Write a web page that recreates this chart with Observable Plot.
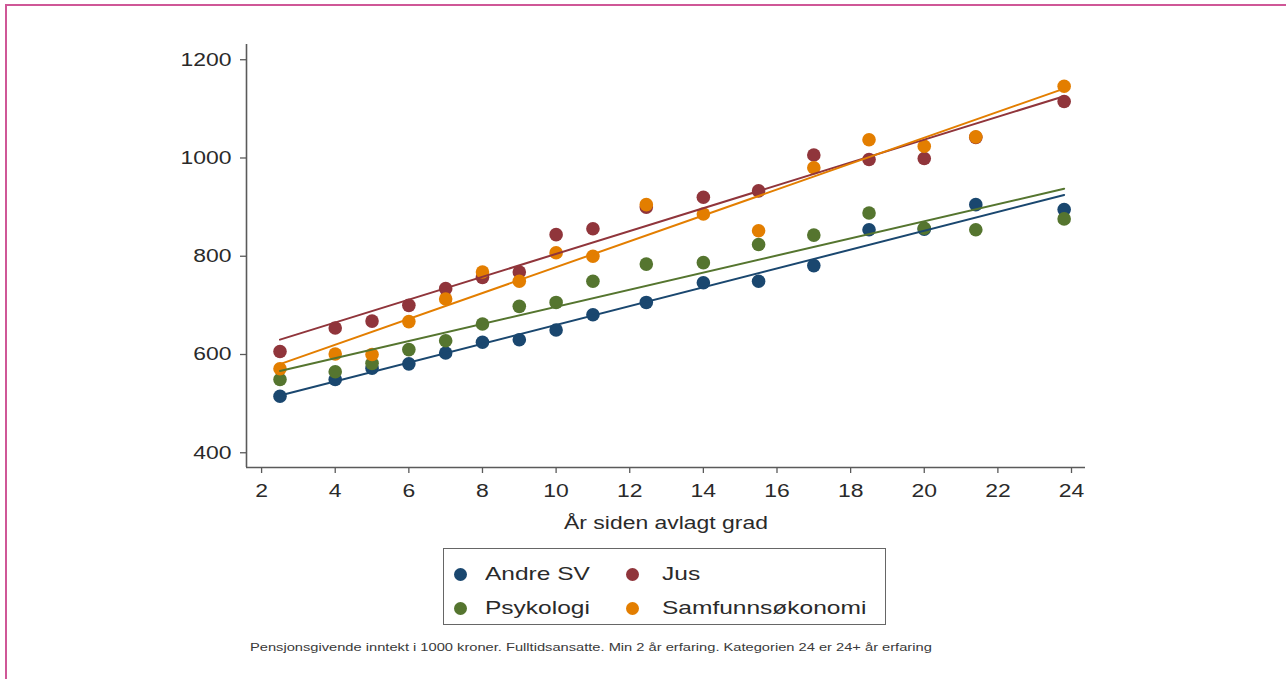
<!DOCTYPE html>
<html>
<head>
<meta charset="utf-8">
<script src="https://cdn.jsdelivr.net/npm/d3@7"></script>
<script src="https://cdn.jsdelivr.net/npm/@observablehq/plot@0.6"></script>
<style>
  html, body { margin: 0; padding: 0; background: #fff; }
  body { width: 1286px; height: 679px; position: relative; overflow: hidden;
         font-family: "Liberation Sans", Arial, sans-serif; color: #333; }
  #frame { position: absolute; left: 5px; top: 4px; right: -4px; bottom: -4px;
           border-top: 2px solid #cf5797; border-left: 2px solid #cf5797; pointer-events: none; }
  #chart { position: absolute; left: 0; top: 0; }
  #legend { position: absolute; left: 443px; top: 548px; width: 443px; height: 77px;
            border: 1px solid #666; box-sizing: border-box; background: #fff;
            display: grid; grid-template-columns: 172px 250px; grid-auto-rows: 34px;
            padding: 8px 0 0 10px; }
  .item { display: flex; align-items: center; font-size: 19px; color: #2a2a2a; }
  .sw { width: 13px; height: 13px; border-radius: 50%; margin-right: 18px; flex: none; }
  .item:nth-child(even) .sw { margin-right: 23px; }
  .lab { display: inline-block; transform: scaleX(1.29); transform-origin: left center; white-space: nowrap; }
  #caption { position: absolute; left: 250px; top: 641px; font-size: 11.5px; color: #3a3a3a;
             white-space: nowrap; transform: scaleX(1.275); transform-origin: left center; }
</style>
</head>
<body>
<div id="frame"></div>
<div id="chart"></div>
<div id="legend"></div>
<div id="caption"></div>
<script>
// ---- data ----
const years = [2.5, 4, 5, 6, 7, 8, 9, 10, 11, 12.45, 14, 15.5, 17, 18.5, 20, 21.4, 23.8];
const andreSV = [515, 549, 572, 581, 603, 625, 630, 650, 681, 706, 746, 749, 781, 854, 855, 905, 895];
const jus = [606, 654, 668, 700, 734, 757, 768, 844, 856, 900, 920, 933, 1006, 997, 999, 1042, 1115];
const psykologi = [549, 565, 582, 610, 628, 662, 698, 706, 749, 784, 787, 824, 843, 888, 857, 854, 876];
const samfunnsokonomi = [571, 601, 600, 667, 713, 768, 749, 807, 800, 905, 886, 852, 980, 1037, 1024, 1043, 1146];
const seriesNames = ["Andre SV", "Jus", "Psykologi", "Samfunnsøkonomi"];
const seriesValues = [andreSV, jus, psykologi, samfunnsokonomi];
const seriesColors = ["#1a476f", "#90353b", "#55752f", "#e37e00"];
const yTicks = [400, 600, 800, 1000, 1200];
const xTicks = [2, 4, 6, 8, 10, 12, 14, 16, 18, 20, 22, 24];
const xLabel = "År siden avlagt grad";
const captionText = "Pensjonsgivende inntekt i 1000 kroner. Fulltidsansatte. Min 2 år erfaring. Kategorien 24 er 24+ år erfaring";
const xDomain = [1.59, 24.38];
const yDomain = [370, 1231];

const data = [];
seriesValues.forEach((vals, si) => vals.forEach((v, i) => {
  if (v != null) data.push({x: years[i], y: v, g: seriesNames[si]});
}));

const axisColor = "#5a5a5a";
const plot = Plot.plot({
  width: 1286,
  height: 540,
  marginLeft: 246,
  marginRight: 201,
  marginTop: 44,
  marginBottom: 73,
  style: {fontFamily: '"Liberation Sans", Arial, sans-serif', color: "#2a2a2a", background: "transparent", overflow: "visible"},
  x: {domain: xDomain},
  y: {domain: yDomain},
  color: {domain: seriesNames, range: seriesColors},
  marks: [
    Plot.axisY({ticks: yTicks, tickFormat: d => String(d), tickSize: 6, tickPadding: 9, label: null,
                fontSize: 18.5, stroke: axisColor, strokeWidth: 1.3}),
    Plot.axisX({ticks: xTicks, tickFormat: d => String(d), tickSize: 6, tickPadding: 10, label: xLabel, labelAnchor: "center",
                labelOffset: 61, labelArrow: "none", fontSize: 18.5, stroke: axisColor, strokeWidth: 1.3}),
    Plot.ruleX([xDomain[0]], {stroke: axisColor, strokeWidth: 1.6}),
    Plot.ruleY([yDomain[0]], {stroke: axisColor, strokeWidth: 1.6}),
    Plot.dot(data, {x: "x", y: "y", fill: "g", r: 6.8}),
    Plot.linearRegressionY(data, {x: "x", y: "y", stroke: "g", ci: 0, strokeWidth: 2})
  ]
});

// widen glyphs horizontally like the reference lettering (keeps each anchor point)
const SX = 1.24;
plot.querySelectorAll("text").forEach(t => {
  const tr = t.getAttribute("transform") || "";
  const xa = t.getAttribute("x");
  if (xa != null && /^-?[\d.]+$/.test(xa)) t.setAttribute("x", String(parseFloat(xa) / SX));
  t.setAttribute("transform", `${tr} scale(${SX},1)`.trim());
});
document.getElementById("chart").appendChild(plot);

// legend
const legend = document.getElementById("legend");
seriesNames.forEach((name, i) => {
  const item = document.createElement("div");
  item.className = "item";
  item.innerHTML = `<span class="sw" style="background:${seriesColors[i]}"></span><span class="lab"></span>`;
  item.querySelector(".lab").textContent = name;
  legend.appendChild(item);
});
document.getElementById("caption").textContent = captionText;
</script>
</body>
</html>
